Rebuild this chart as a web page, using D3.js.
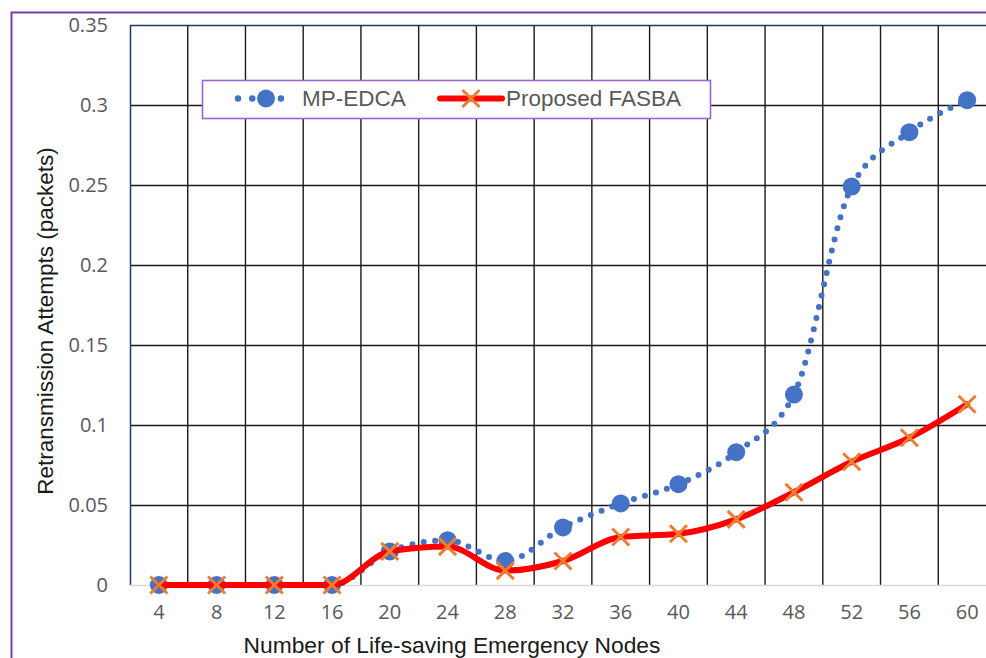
<!DOCTYPE html>
<html>
<head>
<meta charset="utf-8">
<script src="https://cdn.jsdelivr.net/npm/d3@7/dist/d3.min.js"></script>
<style>
  html, body { margin: 0; padding: 0; background: #fff; }
  svg { display: block; }
</style>
</head>
<body>
<svg id="chart" width="986" height="658"></svg>
<script>
// ---- data ----
const categories = [4, 8, 12, 16, 20, 24, 28, 32, 36, 40, 44, 48, 52, 56, 60];
const mpEdca = [0, 0, 0, 0, 0.021, 0.028, 0.015, 0.036, 0.051, 0.063, 0.083, 0.119, 0.249, 0.283, 0.303];
const fasba  = [0, 0, 0, 0, 0.021, 0.024, 0.009, 0.015, 0.030, 0.032, 0.041, 0.058, 0.077, 0.092, 0.113];
const yTicks = [0, 0.05, 0.1, 0.15, 0.2, 0.25, 0.3, 0.35];
const seriesNames = ["MP-EDCA", "Proposed FASBA"];
const xTitle = "Number of Life-saving Emergency Nodes";
const yTitle = "Retransmission Attempts (packets)";

// ---- layout ----
const svg = d3.select("#chart");
const plot = { left: 130, top: 25, right: 996, bottom: 585 };
const blue = "#4472C4", red = "#FF0000", orange = "#ED7D31";
const tickFont = "'Open Sans', 'Liberation Sans', Arial, sans-serif";
const textFont = "'Liberation Sans', Arial, sans-serif";

// outer border
svg.append("rect")
  .attr("x", 11.5).attr("y", 12.5)
  .attr("width", 1000).attr("height", 700)
  .attr("fill", "none").attr("stroke", "#7A3FB0").attr("stroke-width", 2);

const x = d3.scaleBand().domain(categories).range([plot.left, plot.right]).padding(0);
const y = d3.scaleLinear().domain([0, 0.35]).range([plot.bottom, plot.top]);
const cx = d => x(d) + x.bandwidth() / 2;

// horizontal gridlines
svg.append("g").selectAll("line")
  .data(yTicks.filter(t => t > 0 && t < 0.35))
  .join("line")
  .attr("x1", plot.left).attr("x2", plot.right)
  .attr("y1", d => Math.round(y(d)) + 0.5).attr("y2", d => Math.round(y(d)) + 0.5)
  .attr("stroke", "#1a1a1a").attr("stroke-width", 1.4);

// vertical gridlines at category boundaries
svg.append("g").selectAll("line")
  .data(categories.slice(1))
  .join("line")
  .attr("x1", d => x(d)).attr("x2", d => x(d))
  .attr("y1", plot.top).attr("y2", plot.bottom)
  .attr("stroke", "#1a1a1a").attr("stroke-width", 1.4);

// plot area border (top and left navy)
svg.append("line").attr("x1", plot.left).attr("x2", plot.right)
  .attr("y1", plot.top + 0.5).attr("y2", plot.top + 0.5)
  .attr("stroke", "#1F3864").attr("stroke-width", 1.5);
svg.append("line").attr("x1", plot.left + 0.5).attr("x2", plot.left + 0.5)
  .attr("y1", plot.top).attr("y2", plot.bottom)
  .attr("stroke", "#1F3864").attr("stroke-width", 1.5);

// bottom axis line (light gray)
svg.append("line").attr("x1", plot.left).attr("x2", plot.right)
  .attr("y1", plot.bottom + 0.5).attr("y2", plot.bottom + 0.5)
  .attr("stroke", "#D9D9D9").attr("stroke-width", 1.5);

// y axis labels
const yAxis = svg.append("g")
  .attr("transform", `translate(${plot.left},0)`)
  .call(d3.axisLeft(y).tickValues(yTicks).tickSize(0).tickPadding(22).tickFormat(d => String(+d.toFixed(2))));
yAxis.select(".domain").remove();
yAxis.selectAll("text").attr("font-family", tickFont).attr("font-size", 20).attr("fill", "#595959");

// x axis labels
const xAxis = svg.append("g")
  .attr("transform", `translate(0,${plot.bottom})`)
  .call(d3.axisBottom(x).tickSize(0).tickPadding(20));
xAxis.select(".domain").remove();
xAxis.selectAll("text").attr("font-family", tickFont).attr("font-size", 20).attr("fill", "#595959");

// titles
svg.append("text")
  .attr("transform", `translate(53,321) rotate(-90)`)
  .attr("text-anchor", "middle")
  .attr("font-family", textFont).attr("font-size", 22.5).attr("fill", "#1a1a1a")
  .text(yTitle);
svg.append("text")
  .attr("x", 452).attr("y", 653)
  .attr("text-anchor", "middle")
  .attr("font-family", textFont).attr("font-size", 22.8).attr("fill", "#1a1a1a")
  .text(xTitle);

// series
const curve = d3.curveMonotoneX;
const lineGen = vals => d3.line().x((d, i) => cx(categories[i])).y(d => y(d)).curve(curve)(vals);

// MP-EDCA: dotted line + circle markers
svg.append("path")
  .attr("d", lineGen(mpEdca))
  .attr("fill", "none").attr("stroke", blue)
  .attr("stroke-width", 6).attr("stroke-linecap", "round")
  .attr("stroke-dasharray", "0 11.5");
svg.append("g").selectAll("circle")
  .data(mpEdca)
  .join("circle")
  .attr("cx", (d, i) => cx(categories[i])).attr("cy", d => y(d))
  .attr("r", 9).attr("fill", blue);

// FASBA: thick red line + orange X markers
svg.append("path")
  .attr("d", lineGen(fasba))
  .attr("fill", "none").attr("stroke", red)
  .attr("stroke-width", 6).attr("stroke-linecap", "round").attr("stroke-linejoin", "round");
const xMark = (g, px, py, s) => {
  g.append("path")
    .attr("d", `M${px - s},${py - s}L${px + s},${py + s}M${px - s},${py + s}L${px + s},${py - s}`)
    .attr("stroke", orange).attr("stroke-width", 3).attr("fill", "none");
};
const fg = svg.append("g");
fasba.forEach((d, i) => xMark(fg, cx(categories[i]), y(d), 8.5));

// legend
const lg = svg.append("g");
lg.append("rect")
  .attr("x", 202.5).attr("y", 80.5).attr("width", 508).attr("height", 38)
  .attr("fill", "#fff").attr("stroke", "#9966CC").attr("stroke-width", 1.6);
const ly = 98.5;
lg.append("line")
  .attr("x1", 238).attr("x2", 281).attr("y1", ly).attr("y2", ly)
  .attr("stroke", blue).attr("stroke-width", 6.5).attr("stroke-linecap", "round")
  .attr("stroke-dasharray", "0 14.3");
lg.append("circle").attr("cx", 266).attr("cy", ly).attr("r", 9).attr("fill", blue);
lg.append("text").attr("x", 302).attr("y", 106)
  .attr("font-family", textFont).attr("font-size", 22.5).attr("fill", "#595959")
  .text(seriesNames[0]);
lg.append("line")
  .attr("x1", 440).attr("x2", 502).attr("y1", ly).attr("y2", ly)
  .attr("stroke", red).attr("stroke-width", 6).attr("stroke-linecap", "round");
xMark(lg, 471, ly, 8.5);
lg.append("text").attr("x", 506).attr("y", 106)
  .attr("font-family", textFont).attr("font-size", 22.5).attr("fill", "#595959")
  .text(seriesNames[1]);
</script>
</body>
</html>
